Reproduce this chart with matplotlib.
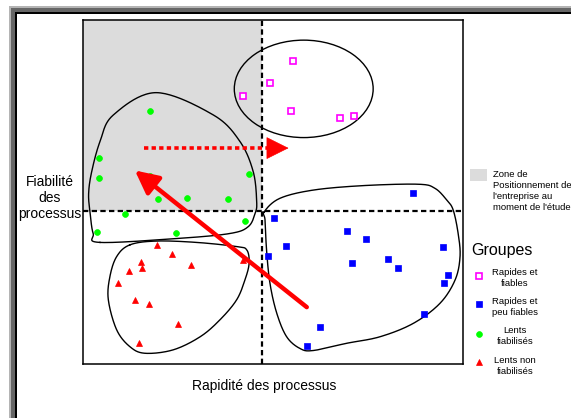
import numpy as np
import matplotlib
matplotlib.use("Agg")
import matplotlib.pyplot as plt
from matplotlib.patches import Rectangle, Ellipse

plt.rcParams['font.family'] = ['Liberation Sans', 'DejaVu Sans']

# ---------------- data (axis units 0..10) ----------------
rf_x = [5.53, 4.91, 4.22, 5.47, 6.77, 7.13]            # Rapides et fiables
rf_y = [8.82, 8.16, 7.80, 7.37, 7.14, 7.22]
rpf_x = [8.68, 5.03, 6.95, 7.44, 5.35, 4.87, 9.48, 7.07, 8.03, 8.29, 9.61, 9.50, 8.99, 6.24, 5.89]
rpf_y = [4.98, 4.26, 3.86, 3.63, 3.44, 3.15, 3.41, 2.94, 3.05, 2.79, 2.58, 2.35, 1.47, 1.08, 0.52]
lf_x = [1.77, 0.41, 0.41, 1.77, 4.38, 1.98, 2.74, 3.82, 1.09, 4.25, 0.37, 2.44]
lf_y = [7.37, 5.98, 5.40, 5.46, 5.54, 4.79, 4.83, 4.81, 4.37, 4.16, 3.85, 3.82]
lnf_x = [1.93, 2.34, 1.52, 1.55, 1.20, 2.83, 4.21, 0.91, 1.37, 1.74, 2.50, 1.47]
lnf_y = [3.47, 3.19, 2.98, 2.81, 2.71, 2.88, 3.03, 2.36, 1.87, 1.74, 1.17, 0.61]

x_split = 4.70
y_split = 4.46

# group outlines
ell_center = (5.81, 8.00)
ell_w, ell_h = 3.66, 2.83
green_blob_x = [0.44, 0.26, 0.18, 0.14, 0.22, 0.44, 0.79, 1.92, 3.43, 4.13, 4.48, 4.57, 4.53, 4.35, 3.87, 2.55]
green_blob_y = [3.54, 3.80, 4.39, 4.95, 5.59, 6.47, 7.24, 7.89, 7.24, 6.47, 5.59, 4.72, 4.39, 4.00, 3.80, 3.66]
red_blob_x = [1.23, 1.93, 2.99, 4.04, 4.31, 4.37, 4.26, 4.04, 3.60, 3.08, 2.37, 1.63, 1.23, 0.88, 0.66, 0.70, 0.88]
red_blob_y = [3.47, 3.58, 3.54, 3.42, 3.32, 2.93, 2.45, 1.87, 1.29, 0.80, 0.42, 0.32, 0.51, 1.00, 1.87, 2.54, 3.13]
blue_blob_x = [4.77, 5.18, 6.06, 7.38, 8.83, 9.27, 9.58, 9.75, 9.88, 9.93, 9.80, 9.40, 8.70, 7.82, 6.94, 6.06, 5.71, 5.36, 5.10, 4.92, 4.83, 4.79]
blue_blob_y = [4.43, 4.82, 5.06, 5.19, 5.23, 5.11, 4.77, 4.48, 3.80, 3.13, 2.45, 1.77, 1.19, 0.80, 0.61, 0.40, 0.46, 0.80, 1.48, 2.35, 3.32, 4.19]

# arrows
arrow_start = (5.89, 1.66)
arrow_end = (1.36, 5.63)
dot_start = (1.60, 6.28)
dot_base = (5.03, 6.28)
dot_tip = (5.41, 6.28)

legend_labels = ["Rapides et\nfiables", "Rapides et\npeu fiables", "Lents\nfiabilisés", "Lents non\nfiabilisés"]
zone_label = "Zone de\nPositionnement de\nl'entreprise au\nmoment de l'étude"


def closed_curve(xs, ys, n=24):
    P = np.column_stack([xs, ys])
    N = len(P)
    out = []
    t = np.linspace(0, 1, n, endpoint=False)[:, None]
    for i in range(N):
        p0, p1, p2, p3 = P[i - 1], P[i], P[(i + 1) % N], P[(i + 2) % N]
        seg = 0.5 * ((2 * p1) + (-p0 + p2) * t + (2 * p0 - 5 * p1 + 4 * p2 - p3) * t ** 2
                     + (-p0 + 3 * p1 - 3 * p2 + p3) * t ** 3)
        out.append(seg)
    out.append(out[0][:1])
    return np.vstack(out)


fig = plt.figure(figsize=(5.71, 4.18), dpi=100)
W, H = 571, 418
ax = fig.add_axes([83.3 / W, 1 - 364.3 / H, 379.4 / W, 344.3 / H])
ax.set_xlim(0, 10)
ax.set_ylim(0, 10)
ax.set_xticks([])
ax.set_yticks([])
for s in ax.spines.values():
    s.set_linewidth(1.1)

# shaded zone
ax.add_patch(Rectangle((0, y_split), x_split, 10 - y_split, facecolor='#dcdcdc', edgecolor='none', zorder=0))

# quadrant lines
ax.axvline(x_split, color='black', lw=1.6, dashes=(2.4, 1.5), zorder=2)
ax.axhline(y_split, color='black', lw=1.6, dashes=(2.4, 1.5), zorder=2)

# outlines
ax.add_patch(Ellipse(ell_center, ell_w, ell_h, fill=False, edgecolor='black', lw=1.0, zorder=3))
for bx, by in [(green_blob_x, green_blob_y), (red_blob_x, red_blob_y), (blue_blob_x, blue_blob_y)]:
    c = closed_curve(bx, by)
    ax.plot(c[:, 0], c[:, 1], color='black', lw=1.0, zorder=3)

# points
ax.plot(rf_x, rf_y, ls='none', marker='s', ms=4.3, mfc='white', mec='#ff00ff', mew=1.2, zorder=5)
ax.plot(rpf_x, rpf_y, ls='none', marker='s', ms=4.6, mfc='#0000ff', mec='#0000ff', mew=0.5, zorder=5)
ax.plot(lf_x, lf_y, ls='none', marker='o', ms=4.2, mfc='#00ff00', mec='#00ff00', mew=0.5, zorder=5)
ax.plot(lnf_x, lnf_y, ls='none', marker='^', ms=5.0, mfc='#ff0000', mec='#ff0000', mew=0.5, zorder=5)

# arrows
ax.annotate('', xy=arrow_end, xytext=arrow_start,
            arrowprops=dict(arrowstyle='-|>,head_length=0.7,head_width=0.35', color='#ff0000',
                            lw=3.2, mutation_scale=20, shrinkA=0, shrinkB=0), zorder=6)
ax.plot([dot_start[0], dot_base[0]], [dot_start[1], dot_base[1]], color='#ff0000', lw=2.6,
        dashes=(1.2, 0.9), solid_capstyle='butt', dash_capstyle='butt', zorder=6)
ax.annotate('', xy=dot_tip, xytext=dot_base,
            arrowprops=dict(arrowstyle='-|>,head_length=1.0,head_width=0.5', color='#ff0000',
                            lw=0.5, mutation_scale=15, shrinkA=0, shrinkB=0), zorder=6)

# overlay in pixel coordinates for frame, labels and legend
ov = fig.add_axes([0, 0, 1, 1])
ov.set_xlim(0, W)
ov.set_ylim(H, 0)
ov.axis('off')
ov.patch.set_alpha(0)

# window-like frame
ov.add_patch(Rectangle((9, 6), W, H, facecolor='#b4b4b4', edgecolor='none'))
ov.add_patch(Rectangle((11, 8), W, H, facecolor='#666666', edgecolor='none'))
ov.add_patch(Rectangle((15, 12), W, H, facecolor='black', edgecolor='none'))
ov.add_patch(Rectangle((17, 14), W, H, facecolor='white', edgecolor='none'))
ov.set_zorder(-1)
ax.set_zorder(1)
ax.patch.set_facecolor('white')

fig.text(50 / W, 1 - 198 / H, "Fiabilité\ndes\nprocessus", ha='center', va='center',
         fontsize=10, linespacing=1.2, zorder=10)
fig.text(264 / W, 1 - 386 / H, "Rapidité des processus", ha='center', va='center', fontsize=10)

# legend (overlay above)
lg = fig.add_axes([0, 0, 1, 1])
lg.set_xlim(0, W)
lg.set_ylim(H, 0)
lg.axis('off')
lg.patch.set_alpha(0)
lg.set_zorder(2)
lg.add_patch(Rectangle((470, 169), 17, 12, facecolor='#dcdcdc', edgecolor='none'))
lg.text(493, 170, zone_label, ha='left', va='top', fontsize=6.8, linespacing=1.3)
lg.text(471.5, 251, "Groupes", ha='left', va='center', fontsize=11.5)
leg_y = [275.7, 304, 334, 361.7]
text_y = [278, 307, 336, 366]
styles = [dict(marker='s', ms=4.3, mfc='white', mec='#ff00ff', mew=1.2),
          dict(marker='s', ms=4.6, mfc='#0000ff', mec='#0000ff', mew=0.5),
          dict(marker='o', ms=4.2, mfc='#00ff00', mec='#00ff00', mew=0.5),
          dict(marker='^', ms=5.0, mfc='#ff0000', mec='#ff0000', mew=0.5)]
for ly, ty, st, lab in zip(leg_y, text_y, styles, legend_labels):
    lg.plot([479.3], [ly], ls='none', **st)
    lg.text(515, ty, lab, ha='center', va='center', fontsize=6.8, linespacing=1.3, multialignment='center')

fig.savefig('out.png', dpi=100)
